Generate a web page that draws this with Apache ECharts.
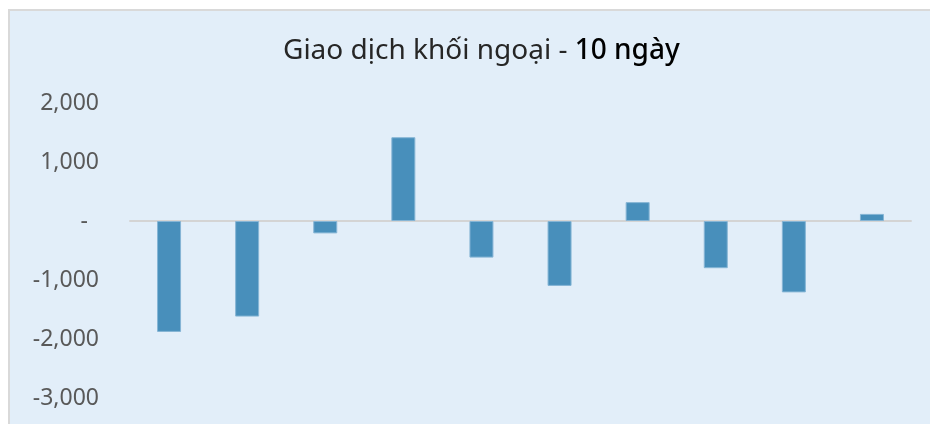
<!DOCTYPE html>
<html>
<head>
<meta charset="utf-8">
<script src="https://cdn.jsdelivr.net/npm/echarts@6/dist/echarts.min.js"></script>
<style>
html,body{margin:0;padding:0;background:#ffffff;width:930px;height:424px;overflow:hidden;}
#frame{position:absolute;left:8px;top:9px;width:940px;height:440px;background:#e2eef9;border:2px solid #d9d9d9;box-sizing:border-box;}
#chart{position:absolute;left:0;top:0;width:930px;height:424px;}
</style>
</head>
<body>
<div id="frame"></div>
<div id="chart"></div>
<script>
const categories = ['1','2','3','4','5','6','7','8','9','10'];
const netValues = [-1880, -1620, -210, 1420, -620, -1100, 320, -800, -1210, 120];
const yTicks = { min: -3000, max: 2000, interval: 1000 };
const titleMain = 'Giao dịch khối ngoại - ';
const titleBold = '10 ngày';

const chart = echarts.init(document.getElementById('chart'), null, {renderer:'canvas'});
chart.setOption({
  backgroundColor: 'transparent',
  animation: false,
  title: {
    text: '{a|' + titleMain + '}{b|' + titleBold + '}',
    left: 278,
    top: 32,
    textStyle: {
      rich: {
        a: { fontFamily: 'Noto Sans', fontSize: 28, color: '#262626', fontWeight: 'normal' },
        b: { fontFamily: 'Noto Sans', fontSize: 28, color: '#000000', fontWeight: 500 }
      }
    }
  },
  grid: { left: 130, right: 19, top: 103, bottom: 26, containLabel: false },
  xAxis: {
    type: 'category',
    data: categories,
    axisLine: { show: true, onZero: true, lineStyle: { color: '#d4d4d4', width: 2 } },
    axisTick: { show: false },
    axisLabel: { show: false },
    splitLine: { show: false }
  },
  yAxis: {
    type: 'value',
    min: yTicks.min,
    max: yTicks.max,
    interval: yTicks.interval,
    axisLine: { show: false },
    axisTick: { show: false },
    splitLine: { show: false },
    axisLabel: {
      margin: 31,
      fontFamily: 'Noto Sans',
      fontSize: 23,
      color: '#595959',
      formatter: function (v) {
        if (v === 0) return '{z|-}';
        return v.toLocaleString('en-US');
      },
      rich: { z: { fontFamily: 'Noto Sans', fontSize: 23, color: '#595959', padding: [0, 11, 0, 0] } }
    }
  },
  series: [{
    type: 'bar',
    data: netValues,
    barWidth: 24,
    itemStyle: { color: '#488fbb', borderColor: '#86b5d5', borderWidth: 1 }
  }]
});
</script>
</body>
</html>
